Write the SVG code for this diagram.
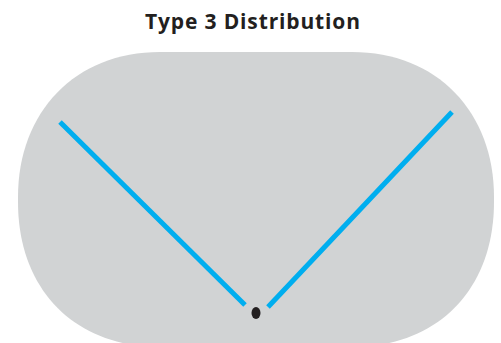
<svg xmlns="http://www.w3.org/2000/svg" width="501" height="343" viewBox="0 0 501 343">
<style>
.title{font-family:"Open Sans","Liberation Sans",sans-serif;font-weight:bold;font-size:21px;fill:#231f20}
.ray{stroke:#00aeef;stroke-width:5;fill:none}
</style>
<rect width="501" height="343" fill="#ffffff"/>
<g id="title"><text class="title" x="145" y="28.5" textLength="215" lengthAdjust="spacing">Type 3 Distribution</text></g>
<g id="area"><path fill="#d1d3d4" d="M160,52 L352,52 C437,52 494,112 494,197 L494,202 C494,290 437,347 352,347 L160,347 C75,347 18,290 18,202 L18,197 C18,112 75,52 160,52 Z"/></g>
<g id="connectors">
<line class="ray" x1="60" y1="122" x2="245" y2="305"/>
<line class="ray" x1="452" y1="112" x2="268" y2="307"/>
</g>
<g id="source"><ellipse cx="256" cy="313" rx="4.5" ry="6" fill="#231f20"/></g>
</svg>
